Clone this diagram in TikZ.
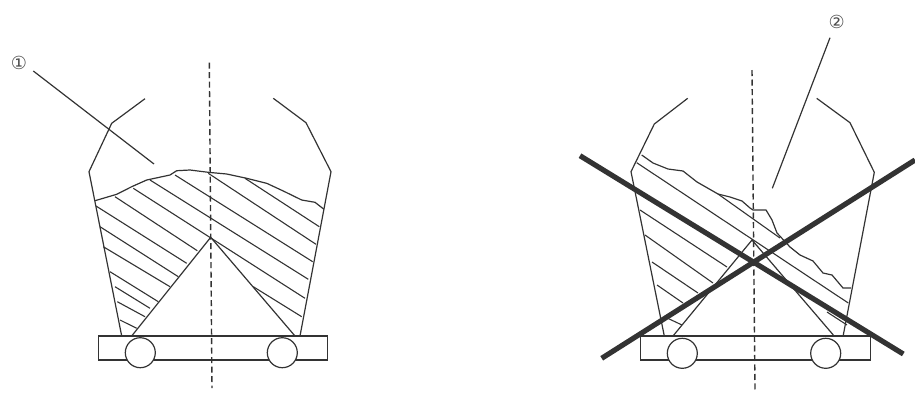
\documentclass[tikz,border=0pt]{standalone}
\usepackage{fontspec}
\setmainfont{DejaVu Sans}
\tikzset{
    wall/.style={line width=1.2pt, draw=black!80},
    hatchline/.style={line width=1.1pt, draw=black!80},
    axisline/.style={line width=1.4pt, draw=black!80, dash pattern=on 6pt off 3.5pt},
    crossbar/.style={line width=5.2pt, draw=black!80},
    wheel/.style={circle, draw=black!80, fill=white, line width=1.2pt, minimum size=30pt, inner sep=0pt},
    tag/.style={font=\fontsize{18}{18}\selectfont, text=black!70, inner sep=0pt},
}
\begin{document}
\begin{tikzpicture}[x=1pt, y=-1pt]
    \useasboundingbox (0, 0) rectangle (915, 392);
    % good charge
    \draw[axisline] (209.3, 62.7) -- (212, 388);
    \draw[wall] (145, 98.7) -- (111.7, 123.3) -- (89, 171.7) -- (121.7, 336);
    \draw[wall] (273.3, 98.3) -- (306, 122.7) -- (331, 171.7) -- (300, 336);
    \draw[wall] (95, 200.7) -- (116.7, 194.3) -- (131.7, 186.7) -- (146.7, 180) -- (170, 175) -- (176.7, 170.7)
        -- (190, 170) -- (208.3, 172.3) -- (226.7, 174) -- (246.7, 178.3) -- (266.7, 183.3) -- (283.3, 191)
        -- (301.7, 200) -- (315, 202.3) -- (324, 209.3);
    \draw[wall] (131.7, 336) -- (210.7, 237.3) -- (295, 336);
    \foreach \xa/\ya/\xb/\yb in {
        96/206/186.7/263.3, 115/196.7/197.3/250.7, 133.3/188.3/305/298.3, 150/180/308.3/279.3,
        175/175/312.7/261.7, 208.3/173.3/316/244.3, 245/178.3/319.3/226.7,
        100/226.7/178.3/276.7, 103.3/246.7/170/286.7, 110/271.7/158.3/301.7,
        115/286.7/150/308.3, 117.3/301.7/145/316.7, 120/320/136.7/328.3,
        253.3/286.7/301.7/316.7} {
        \draw[hatchline] (\xa, \ya) -- (\xb, \yb);
    }
    \draw[wall] (98.3, 336) rectangle (327.3, 360);
    \node[wheel] (wheelA) at (140.3, 352.7) {};
    \node[wheel] (wheelB) at (282.3, 352.7) {};
    \node[tag] (tagA) at (19, 63) {①};
    \coordinate (tipA) at (154, 164);
    \draw[wall] (33.3, 71) -- (tipA);
    % bad charge
    \draw[axisline] (752, 70) -- (755, 390);
    \draw[wall] (687.7, 98.3) -- (654.3, 124) -- (631, 171.7) -- (664.3, 336);
    \draw[wall] (816.7, 98.3) -- (850, 122.7) -- (874.3, 172.3) -- (843.3, 335);
    \draw[wall] (641.7, 155) -- (653, 163) -- (668, 169) -- (683, 171) -- (697, 182) -- (718, 194)
        -- (730, 197) -- (742, 201) -- (750, 208) -- (753, 210) -- (766, 210) -- (772, 220)
        -- (777, 233) -- (790, 247) -- (800, 255) -- (813, 261) -- (823, 273)
        -- (832, 275) -- (843, 288) -- (851, 288);
    \draw[wall] (673, 336) -- (752, 240) -- (833.3, 335);
    \foreach \xa/\ya/\xb/\yb in {
        636.7/162.7/848.3/303, 718/194/780/238, 640/210/727/267, 645/235/713/283,
        652/262/698/293, 657/285/683/303, 665/317/682/325, 827/312/847/325} {
        \draw[hatchline] (\xa, \ya) -- (\xb, \yb);
    }
    \draw[wall] (640.7, 336) rectangle (870.7, 360);
    \node[wheel] (wheelC) at (682.3, 353.3) {};
    \node[wheel] (wheelD) at (825.7, 353.3) {};
    \node[tag] (tagB) at (836.7, 21.7) {②};
    \coordinate (tipB) at (772.3, 188.3);
    \draw[wall] (830, 37.7) -- (tipB);
    \draw[crossbar] (580, 155.7) -- (903.3, 354);
    \draw[crossbar] (601.7, 358.3) -- (915, 160);
\end{tikzpicture}
\end{document}
